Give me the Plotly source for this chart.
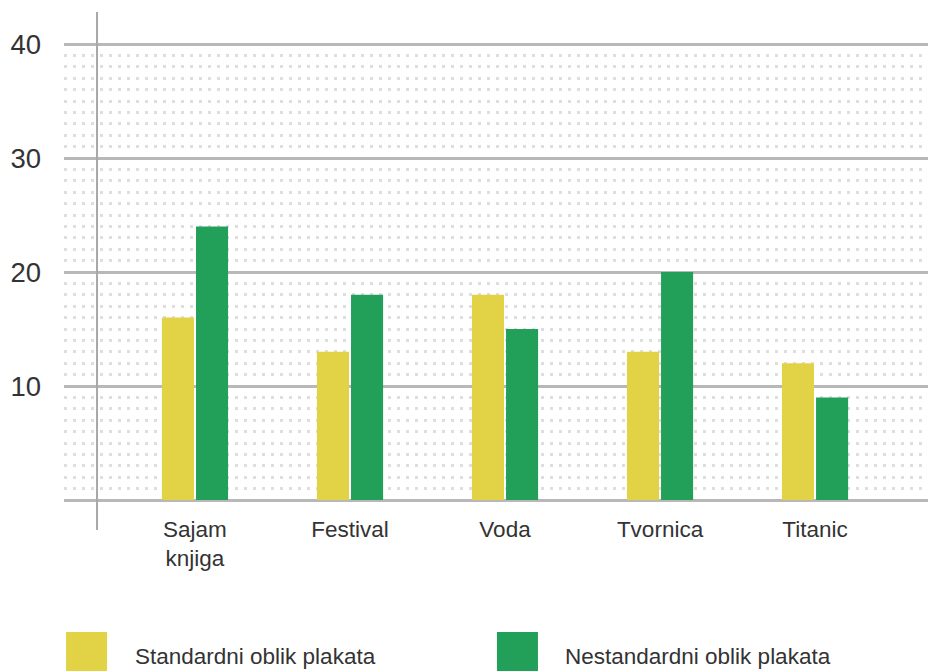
import plotly.graph_objects as go

categories = ["Sajam<br>knjiga", "Festival", "Voda", "Tvornica", "Titanic"]
standard_vals = [16, 13, 18, 13, 12]
nonstandard_vals = [24, 18, 15, 20, 9]
series_names = ["Standardni oblik plakata", "Nestandardni oblik plakata"]
y_tickvals = [0, 10, 20, 30, 40]
y_ticktext = ["", "10", "20", "30", "40"]
minor_vals = [v for v in range(1, 40) if v % 10 != 0]

YELLOW = "#E2D246"
GREEN = "#22A05A"
FONT = "Liberation Sans, Arial, sans-serif"

fig = go.Figure()
fig.add_trace(go.Bar(x=categories, y=standard_vals, name=series_names[0],
                     marker=dict(color=YELLOW, line=dict(width=0))))
fig.add_trace(go.Bar(x=categories, y=nonstandard_vals, name=series_names[1],
                     marker=dict(color=GREEN, line=dict(width=0))))

fig.update_layout(
    width=936, height=671,
    margin=dict(l=56, r=0, t=4, b=177),
    plot_bgcolor="white", paper_bgcolor="white",
    barmode="group", bargap=0.56, bargroupgap=0.06,
    showlegend=False,
    font=dict(family=FONT, color="#333333"),
    xaxis=dict(range=[-0.845, 4.832], showgrid=False, zeroline=False, showline=False,
               ticks="", tickfont=dict(size=22.5, color="#333333"), ticklabelstandoff=11),
    yaxis=dict(range=[-0.175, 42.807], tickmode="array", tickvals=y_tickvals, ticktext=y_ticktext,
               showgrid=True, gridcolor="#B8B8B8", gridwidth=3, zeroline=False, showline=False,
               ticks="", tickfont=dict(size=27.5, color="#333333"), ticklabelstandoff=22,
               minor=dict(tickmode="array", tickvals=minor_vals, showgrid=True,
                          gridcolor="#DEDEDE", gridwidth=3, griddash="3px,6px")),
)

# vertical axis line extending beyond plot area
fig.add_shape(type="line", xref="x", yref="paper", x0=-0.632, x1=-0.632, y0=-0.057, y1=1.0,
              line=dict(color="#A8A8A8", width=2), layer="above")

# custom legend
legend_box_x = [0.0023, 0.492]
legend_text_x = [0.078, 0.5666]
colors = [YELLOW, GREEN]
for i in range(2):
    fig.add_shape(type="rect", xref="paper", yref="paper",
                  x0=legend_box_x[i], x1=legend_box_x[i] + 0.0466, y0=-0.38, y1=-0.2653,
                  fillcolor=colors[i], line=dict(width=0))
    fig.add_annotation(xref="paper", yref="paper", x=legend_text_x[i], y=-0.3163,
                       text=series_names[i], showarrow=False, xanchor="left", yanchor="middle",
                       font=dict(size=22.5, color="#333333"))

fig.write_html("out.html")
